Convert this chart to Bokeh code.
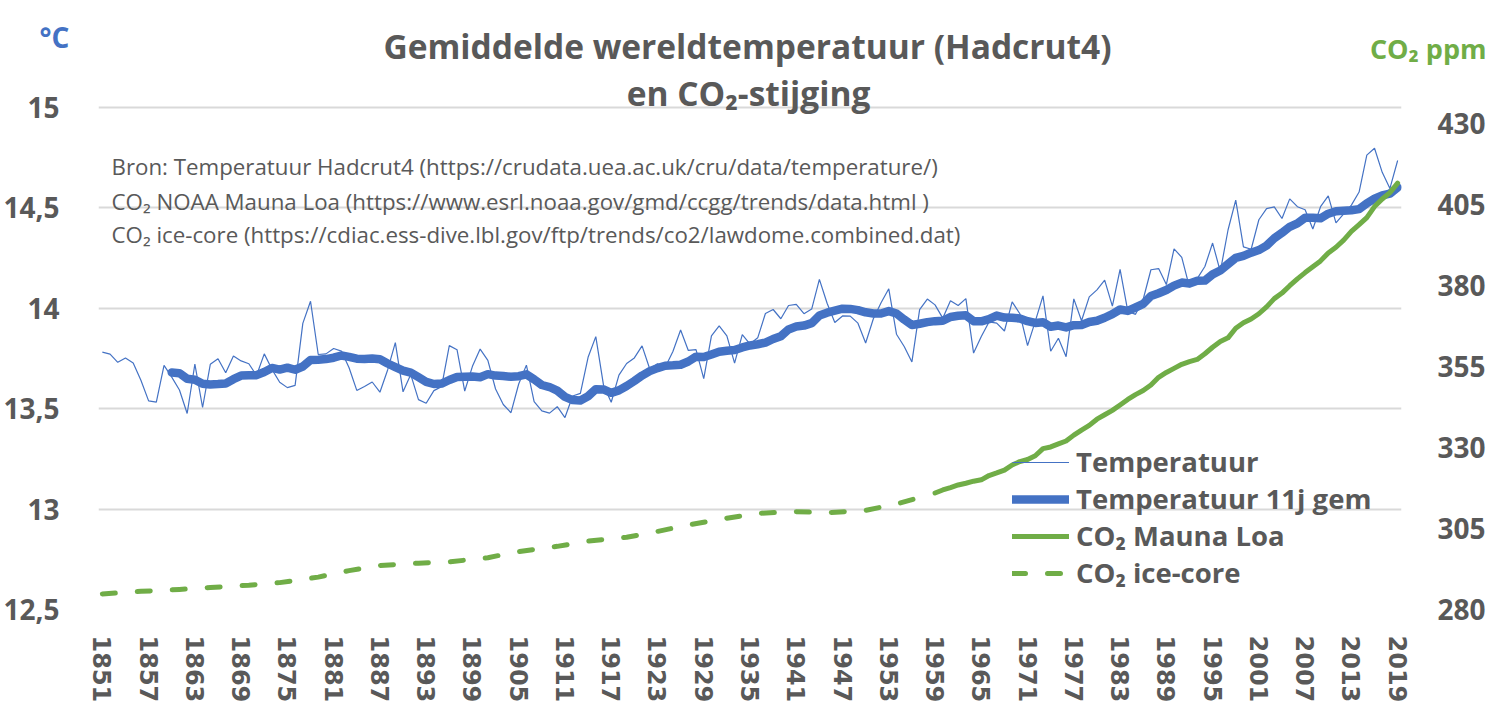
from bokeh.plotting import figure
from bokeh.layouts import column, row
from bokeh.models import (Range1d, LinearAxis, FixedTicker, CustomJSTickFormatter,
                          Legend, LegendItem, Label)
from bokeh.embed import file_html
from bokeh.resources import INLINE

# ---------------- data ----------------
years = list(range(1851, 2020))

temperature = [
    13.782, 13.772, 13.731, 13.752, 13.728, 13.642, 13.539, 13.533, 13.716, 13.657,
    13.593, 13.476, 13.722, 13.506, 13.721, 13.749, 13.679, 13.762, 13.738, 13.724,
    13.665, 13.773, 13.696, 13.632, 13.605, 13.616, 13.925, 14.035, 13.770, 13.773,
    13.800, 13.787, 13.704, 13.591, 13.611, 13.633, 13.582, 13.693, 13.829, 13.584,
    13.670, 13.545, 13.527, 13.590, 13.610, 13.814, 13.794, 13.588, 13.711, 13.797,
    13.741, 13.598, 13.521, 13.480, 13.623, 13.717, 13.535, 13.489, 13.478, 13.510,
    13.456, 13.563, 13.576, 13.756, 13.859, 13.617, 13.532, 13.667, 13.725, 13.753,
    13.813, 13.698, 13.724, 13.706, 13.785, 13.892, 13.790, 13.794, 13.650, 13.863,
    13.913, 13.863, 13.727, 13.869, 13.822, 13.853, 13.974, 13.994, 13.948, 14.014,
    14.020, 13.973, 13.996, 14.144, 14.025, 13.929, 13.962, 13.961, 13.926, 13.827,
    13.948, 14.028, 14.097, 13.871, 13.810, 13.733, 13.993, 14.046, 14.017, 13.951,
    14.038, 14.014, 14.048, 13.777, 13.860, 13.932, 13.926, 13.887, 14.032, 13.973,
    13.814, 13.935, 14.062, 13.786, 13.851, 13.759, 14.047, 13.938, 14.057, 14.092,
    14.140, 14.011, 14.194, 13.986, 13.970, 14.045, 14.192, 14.198, 14.118, 14.296,
    14.254, 14.105, 14.148, 14.208, 14.325, 14.183, 14.390, 14.539, 14.306, 14.294,
    14.441, 14.496, 14.505, 14.447, 14.545, 14.506, 14.491, 14.395, 14.506, 14.560,
    14.425, 14.470, 14.514, 14.579, 14.763, 14.797, 14.677, 14.597, 14.736,
]

avg_years = list(range(1860, 2020))
temperature_11y = [
    13.680, 13.677, 13.649, 13.644, 13.624, 13.621, 13.623, 13.626, 13.647, 13.665,
    13.666, 13.667, 13.683, 13.703, 13.695, 13.704, 13.694, 13.710, 13.743, 13.744,
    13.747, 13.754, 13.765, 13.758, 13.749, 13.747, 13.750, 13.746, 13.725, 13.707,
    13.690, 13.680, 13.657, 13.634, 13.623, 13.625, 13.643, 13.658, 13.659, 13.660,
    13.657, 13.672, 13.665, 13.663, 13.659, 13.662, 13.671, 13.646, 13.618, 13.608,
    13.590, 13.559, 13.543, 13.541, 13.562, 13.597, 13.596, 13.579, 13.591, 13.613,
    13.638, 13.665, 13.687, 13.702, 13.714, 13.716, 13.719, 13.735, 13.759, 13.757,
    13.770, 13.784, 13.789, 13.792, 13.805, 13.815, 13.821, 13.829, 13.847, 13.861,
    13.895, 13.909, 13.914, 13.926, 13.964, 13.978, 13.988, 13.998, 13.997, 13.991,
    13.980, 13.974, 13.974, 13.986, 13.974, 13.944, 13.917, 13.923, 13.931, 13.936,
    13.938, 13.957, 13.963, 13.965, 13.936, 13.935, 13.946, 13.964, 13.954, 13.953,
    13.949, 13.936, 13.927, 13.931, 13.908, 13.914, 13.905, 13.916, 13.917, 13.932,
    13.938, 13.953, 13.971, 13.994, 13.987, 14.004, 14.022, 14.061, 14.075, 14.091,
    14.113, 14.128, 14.124, 14.137, 14.138, 14.169, 14.188, 14.220, 14.251, 14.261,
    14.277, 14.290, 14.312, 14.349, 14.376, 14.406, 14.423, 14.451, 14.451, 14.448,
    14.471, 14.483, 14.486, 14.488, 14.494, 14.523, 14.546, 14.562, 14.571, 14.602,
]

mlo_years = list(range(1959, 2020))
co2_mauna_loa = [
    315.98, 316.91, 317.64, 318.45, 318.99, 319.62, 320.04, 321.37, 322.18, 323.05,
    324.62, 325.68, 326.32, 327.46, 329.68, 330.19, 331.13, 332.03, 333.84, 335.41,
    336.84, 338.76, 340.12, 341.48, 343.15, 344.87, 346.35, 347.61, 349.31, 351.69,
    353.20, 354.45, 355.70, 356.54, 357.21, 358.96, 360.97, 362.74, 363.88, 366.84,
    368.54, 369.71, 371.32, 373.45, 375.98, 377.70, 379.98, 382.09, 384.02, 385.83,
    387.64, 390.10, 391.85, 394.06, 396.74, 398.81, 401.01, 404.41, 406.76, 408.72,
    411.66,
]

ice_years = [1851, 1856, 1861, 1865, 1870, 1874, 1879, 1883, 1887, 1892, 1896, 1901,
             1905, 1910, 1914, 1919, 1923, 1927, 1932, 1936, 1941, 1945, 1950, 1954, 1958]
co2_ice_core = [284.8, 285.6, 286.2, 286.8, 287.5, 288.3, 290.0, 292.0, 293.6, 294.3,
                294.7, 296.0, 297.9, 299.5, 301.1, 302.3, 304.1, 306.1, 308.2, 309.7,
                310.2, 309.9, 310.6, 312.6, 315.2]

x_ticks = list(range(1851, 2020, 6))
temp_ticks = [12.5, 13.0, 13.5, 14.0, 14.5, 15.0]
co2_ticks = [280, 305, 330, 355, 380, 405, 430]

title_lines = ["Gemiddelde wereldtemperatuur (Hadcrut4)", "en CO\u2082-stijging"]
source_lines = [
    "Bron: Temperatuur Hadcrut4 (https://crudata.uea.ac.uk/cru/data/temperature/)",
    "CO\u2082 NOAA Mauna Loa (https://www.esrl.noaa.gov/gmd/ccgg/trends/data.html )",
    "CO\u2082 ice-core (https://cdiac.ess-dive.lbl.gov/ftp/trends/co2/lawdome.combined.dat)",
]
series_names = ["Temperatuur", "Temperatuur 11j gem", "CO\u2082 Mauna Loa", "CO\u2082 ice-core"]
left_unit = "\u00b0C"
right_unit = "CO\u2082 ppm"

# ---------------- style / layout ----------------
BLUE = "#4472C4"
GREEN = "#70AD47"
TXT = "#595959"
GRID = "#D9D9D9"
FONT = "Open Sans"

W = 1488           # total width
HEAD = 68          # height of header strip
H_MAIN = 716 - HEAD  # height of main chart
FRAME_L, FRAME_R = 95, 1410
SPLIT_R = 1360     # header: centre strip ends here, right strip begins
Y15, Y125 = 107, 609          # pixel rows of 15 and 12,5 gridlines (page coords)
px_per_deg = (Y125 - Y15) / 2.5
extra = (Y15 - HEAD) / px_per_deg  # frame reaches above the 15 gridline
t_lo, t_hi = 12.5, 15.0 + extra
c_lo = 280.0
c_hi = c_lo + (t_hi - t_lo) * (435.0 - 280.0) / 2.5


def strip(width):
    f = figure(width=width, height=HEAD, output_backend="svg", toolbar_location=None,
               x_range=Range1d(0, width), y_range=Range1d(0, HEAD),
               x_axis_type=None, y_axis_type=None, min_border=0)
    f.outline_line_color = None
    f.grid.visible = False
    return f


# ---------------- header strips ----------------
h_left = strip(FRAME_L)
h_mid = strip(SPLIT_R - FRAME_L)
h_right = strip(W - SPLIT_R)

h_left.add_layout(Label(x=54, y=HEAD - 36, x_units="screen", y_units="screen", text=left_unit,
                        text_align="center", text_baseline="middle", text_font=FONT,
                        text_font_style="bold", text_font_size="28px", text_color=BLUE))
h_mid.add_layout(Label(x=747 - FRAME_L, y=HEAD - 45, x_units="screen", y_units="screen",
                       text=title_lines[0], text_align="center", text_baseline="middle",
                       text_font=FONT, text_font_style="bold", text_font_size="33.5px",
                       text_color=TXT))
h_right.add_layout(Label(x=1486 - SPLIT_R, y=HEAD - 48, x_units="screen", y_units="screen",
                         text=right_unit, text_align="right", text_baseline="middle",
                         text_font=FONT, text_font_style="bold", text_font_size="27px",
                         text_color=GREEN))

# ---------------- main chart ----------------
p = figure(width=W, height=H_MAIN, output_backend="svg", toolbar_location=None,
           x_range=Range1d(1850.5, 2019.5), y_range=Range1d(t_lo, t_hi),
           min_border_left=FRAME_L, min_border_right=W - FRAME_R,
           min_border_top=0, min_border_bottom=HEAD + H_MAIN - Y125)
p.outline_line_color = None
p.background_fill_color = "white"
p.border_fill_color = "white"
p.extra_y_ranges = {"co2": Range1d(c_lo, c_hi)}

p.xgrid.visible = False
p.ygrid.ticker = FixedTicker(ticks=temp_ticks)
p.ygrid.grid_line_color = GRID
p.ygrid.grid_line_width = 2

xa = p.xaxis[0]
xa.ticker = FixedTicker(ticks=x_ticks)
xa.axis_line_color = None
xa.major_tick_line_color = None
xa.minor_tick_line_color = None
xa.major_label_orientation = "vertical"
xa.major_label_standoff = 20
xa.major_label_text_font = "DejaVu Sans"
xa.major_label_text_font_style = "bold"
xa.major_label_text_font_size = "24px"
xa.major_label_text_color = TXT

ya = p.yaxis[0]
ya.ticker = FixedTicker(ticks=temp_ticks)
ya.formatter = CustomJSTickFormatter(code="return (tick % 1 == 0 ? tick.toFixed(0) : tick.toFixed(1)).replace('.', ',');")
ya.axis_line_color = None
ya.major_tick_line_color = None
ya.minor_tick_line_color = None
ya.major_label_standoff = 33
ya.major_label_text_font = FONT
ya.major_label_text_font_style = "bold"
ya.major_label_text_font_size = "28px"
ya.major_label_text_color = TXT

ra = LinearAxis(y_range_name="co2", ticker=FixedTicker(ticks=co2_ticks))
ra.axis_line_color = None
ra.major_tick_line_color = None
ra.minor_tick_line_color = None
ra.major_label_standoff = 30
ra.major_label_text_font = FONT
ra.major_label_text_font_style = "bold"
ra.major_label_text_font_size = "28px"
ra.major_label_text_color = TXT
p.add_layout(ra, "right")

r_t = p.line(years, temperature, line_color=BLUE, line_width=1.2)
r_a = p.line(avg_years, temperature_11y, line_color=BLUE, line_width=8.5,
             line_cap="round", line_join="round")
r_m = p.line(mlo_years, co2_mauna_loa, line_color=GREEN, line_width=5,
             line_cap="round", line_join="round", y_range_name="co2")
r_i = p.line(ice_years, co2_ice_core, line_color=GREEN, line_width=5, line_dash="13 22",
             line_cap="round", line_join="round", y_range_name="co2")

legend = Legend(items=[LegendItem(label=series_names[0], renderers=[r_t]),
                       LegendItem(label=series_names[1], renderers=[r_a]),
                       LegendItem(label=series_names[2], renderers=[r_m]),
                       LegendItem(label=series_names[3], renderers=[r_i])],
                location=(914, 18), orientation="vertical",
                background_fill_alpha=0, border_line_alpha=0,
                padding=0, margin=0, spacing=0,
                glyph_width=57, glyph_height=30, label_height=30, label_standoff=7,
                label_text_font=FONT, label_text_font_style="bold",
                label_text_font_size="27.5px", label_text_color=TXT)
p.add_layout(legend)


def fx(px):
    return px - FRAME_L


def fy(py):
    return Y125 - py


p.add_layout(Label(x=fx(745), y=fy(92), x_units="screen", y_units="screen", text=title_lines[1],
                   text_align="center", text_baseline="middle", text_font=FONT,
                   text_font_style="bold", text_font_size="33.5px", text_color=TXT))

for txt, py in zip(source_lines, [166, 201, 234]):
    p.add_layout(Label(x=fx(108), y=fy(py), x_units="screen", y_units="screen", text=txt,
                       text_align="left", text_baseline="middle", text_font=FONT,
                       text_font_size="22.3px", text_color=TXT))

layout = column(row(h_left, h_mid, h_right, spacing=0), p, spacing=0)
open("out.html", "w").write(file_html(layout, INLINE))
